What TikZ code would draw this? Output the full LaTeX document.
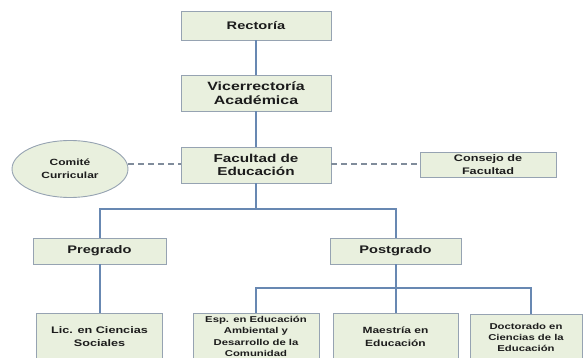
\documentclass[tikz,border=0pt]{standalone}
\usepackage{fontspec}
\setmainfont[FakeStretch=1.33]{Liberation Sans}
\usetikzlibrary{shapes.geometric}
\definecolor{boxfill}{RGB}{233,240,222}
\definecolor{boxline}{RGB}{150,163,178}
\definecolor{conncol}{RGB}{104,136,178}
\definecolor{dashcol}{RGB}{128,140,155}
\definecolor{txtcol}{RGB}{28,28,28}
\tikzset{
  orgbox/.style={draw=boxline, fill=boxfill, line width=0.9pt, inner sep=0pt,
    align=center, text=txtcol, font=\bfseries},
  conn/.style={draw=conncol, line width=2pt, line join=miter},
  dashconn/.style={draw=dashcol, line width=1.8pt, dash pattern=on 6pt off 4pt},
}
\begin{document}
\begin{tikzpicture}[x=1pt,y=-1pt]
\useasboundingbox (0,0) rectangle (584,358);
\clip (0,0) rectangle (584,358);
\fill[white] (0,0) rectangle (584,358);
% top column
\node[orgbox, minimum width=150pt, minimum height=29pt, font=\bfseries\fontsize{11}{13}\selectfont] (rect) at (256,25.5) {Rectoría};
\node[orgbox, minimum width=150pt, minimum height=36pt, font=\bfseries\fontsize{12}{14.5}\selectfont] (vice) at (256,93) {Vicerrectoría\\Académica};
\node[orgbox, minimum width=150pt, minimum height=36pt, font=\bfseries\fontsize{11.5}{13.7}\selectfont] (fac) at (256,165) {Facultad de\\Educación};
% side
\node[orgbox, ellipse, minimum width=116pt, minimum height=57pt, font=\bfseries\fontsize{9}{13}\selectfont] (com) at (70,169) {Comité\\Curricular};
\node[orgbox, minimum width=136pt, minimum height=25pt, font=\bfseries\fontsize{9.5}{12.3}\selectfont] (cons) at (488,164.5) {Consejo de\\Facultad};
% second level
\node[orgbox, minimum width=133pt, minimum height=26pt, font=\bfseries\fontsize{11}{13}\selectfont] (pre) at (99.5,251) {Pregrado};
\node[orgbox, minimum width=131pt, minimum height=26pt, font=\bfseries\fontsize{11}{13}\selectfont] (post) at (395.5,251) {Postgrado};
% bottom row
\node[orgbox, minimum width=126pt, minimum height=47pt, font=\bfseries\fontsize{9.5}{13}\selectfont] (lic) at (99.5,336.5) {Lic. en Ciencias\\Sociales};
\node[orgbox, minimum width=126pt, minimum height=47pt, font=\bfseries\fontsize{8.5}{11.5}\selectfont] (esp) at (256,336.5) {Esp. en Educación\\Ambiental y\\Desarrollo de la\\Comunidad};
\node[orgbox, minimum width=125pt, minimum height=47pt, font=\bfseries\fontsize{9}{13.5}\selectfont] (mae) at (395.5,336.5) {Maestría en\\Educación};
\node[orgbox, minimum width=112pt, minimum height=47pt, font=\bfseries\fontsize{8.5}{11}\selectfont] (doc) at (526,337.5) {Doctorado en\\Ciencias de la\\Educación};
% junctions
\coordinate (j1) at (256,209);
\coordinate (j2) at (395.5,288);
\coordinate (jd) at (531,288);
% connectors
\draw[conn] (rect) -- (vice);
\draw[conn] (vice) -- (fac);
\draw[conn] (fac.south) -- (j1);
\draw[conn] (pre.north) |- (j1) -| (post.north);
\draw[conn] (post.south) -- (j2);
\draw[conn] (esp.north) |- (j2) -- (jd) -- (jd |- doc.north);
\draw[conn] (mae.north) -- (j2);
\draw[conn] (pre.south) -- (lic.north);
% dashed links
\draw[dashconn] (com.east |- 0,164) -- (fac.west |- 0,164);
\draw[dashconn] (fac.east |- 0,164) -- (cons.west |- 0,164);
\end{tikzpicture}
\end{document}
